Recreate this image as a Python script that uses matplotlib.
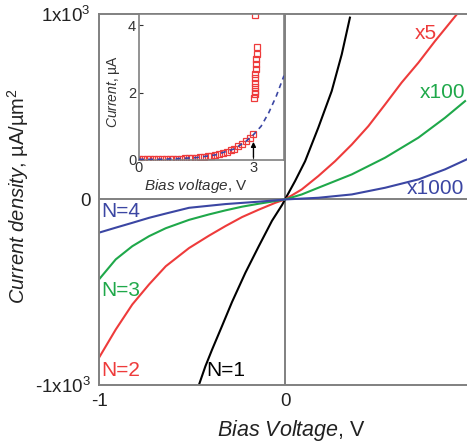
import matplotlib
matplotlib.use("Agg")
import matplotlib.pyplot as plt

plt.rcParams['font.family'] = ['Liberation Sans', 'DejaVu Sans']
plt.rcParams['mathtext.fontset'] = 'custom'
plt.rcParams['mathtext.rm'] = 'Liberation Sans'
plt.rcParams['mathtext.it'] = 'Liberation Sans:italic'

# current density vs bias for N = 1..4 (N=2..4 drawn scaled x5, x100, x1000)
v_n1 = [-0.464, -0.428, -0.392, -0.339, -0.285, -0.213, -0.141, -0.070, -0.016, 0.0,
        0.054, 0.108, 0.179, 0.251, 0.305, 0.349]
j_n1 = [-1003, -899, -809, -683, -553, -395, -252, -115, -30, 0,
        99, 206, 387, 584, 782, 980]

v_n2 = [-1.0, -0.910, -0.821, -0.731, -0.641, -0.516, -0.410, -0.321, -0.231, -0.141, -0.052, 0.0,
        0.090, 0.179, 0.269, 0.359, 0.448, 0.538, 0.627, 0.717, 0.806, 0.923]
j_n2 = [-853, -701, -566, -458, -360, -262, -196, -144, -95, -55, -18, 0,
        54, 126, 206, 296, 395, 512, 630, 737, 853, 997]

v_n3 = [-1.0, -0.910, -0.821, -0.731, -0.641, -0.516, -0.410, -0.321, -0.231, -0.141, -0.016, 0.0,
        0.090, 0.179, 0.359, 0.538, 0.717, 0.860, 0.968]
j_n3 = [-431, -323, -252, -198, -155, -110, -81, -59, -39, -23, -3, 0,
        27, 63, 135, 225, 333, 440, 530]

v_n4 = [-1.0, -0.910, -0.821, -0.731, -0.641, -0.516, -0.321, -0.141, -0.016, 0.0,
        0.179, 0.359, 0.538, 0.717, 0.860, 0.977]
j_n4 = [-179, -152, -126, -99, -76, -45, -25, -12, -2, 0,
        9, 27, 63, 108, 162, 216]

# inset: measured current (squares) and fit (dashed)
v_meas = [0.0, 0.1, 0.2, 0.3, 0.4, 0.5, 0.6, 0.7, 0.8, 0.9, 1.0, 1.1, 1.2, 1.3, 1.4, 1.5,
          1.6, 1.7, 1.8, 1.9, 2.0, 2.1, 2.2, 2.3, 2.4, 2.5, 2.6, 2.7, 2.8, 2.9, 3.0]
i_meas = [0.02, 0.02, 0.02, 0.02, 0.02, 0.02, 0.03, 0.03, 0.03, 0.03, 0.04, 0.04, 0.05, 0.05, 0.06, 0.07,
          0.08, 0.09, 0.11, 0.13, 0.15, 0.18, 0.21, 0.25, 0.29, 0.34, 0.40, 0.47, 0.55, 0.65, 0.78]
v_jump = [3.02, 3.03, 3.03, 3.04, 3.04, 3.05, 3.05, 3.06, 3.06, 3.07, 3.08, 3.08, 3.05]
i_jump = [1.85, 1.95, 2.05, 2.15, 2.28, 2.42, 2.55, 2.7, 2.85, 3.0, 3.15, 3.35, 4.3]
v_fit = [0.0, 0.5, 1.0, 1.5, 2.0, 2.5, 2.8, 3.0, 3.2, 3.4, 3.6, 3.8]
i_fit = [0.02, 0.02, 0.04, 0.07, 0.15, 0.33, 0.55, 0.75, 1.0, 1.4, 1.9, 2.5]

red = '#ee3b3b'
green = '#1fa84a'
blue = '#3b46a3'
grey = '#808080'

fig = plt.figure(figsize=(4.67, 4.46), dpi=100)
ax = fig.add_axes([0.212, 0.1368, 0.7966, 0.832])

ax.axhline(0, color=grey, lw=1.4, zorder=1)
ax.axvline(0, color=grey, lw=1.4, zorder=1)
ax.plot(v_n1, j_n1, color='black', lw=1.5)
ax.plot(v_n2, j_n2, color=red, lw=1.5)
ax.plot(v_n3, j_n3, color=green, lw=1.5)
ax.plot(v_n4, j_n4, color=blue, lw=1.5)

ax.set_xlim(-1, 1)
ax.set_ylim(-1000, 1000)
ax.set_xticks([-1, 0, 1])
ax.set_xticklabels(['-1', '0', '1'])
ax.set_yticks([-1000, 0, 1000])
ax.set_yticklabels([r'-1x10$^3$', '0', r'1x10$^3$'])
ax.tick_params(length=0, labelsize=13.5, colors='#222222', pad=6)
for s in ax.spines.values():
    s.set_color(grey)
    s.set_linewidth(1.4)
ax.set_xlabel(r'$\mathit{Bias\ Voltage}$, V', fontsize=15.5, color='#222222')
ax.xaxis.set_label_coords(0.516, -0.09)
ax.set_ylabel(r'$\mathit{Current\ density}$, µA/µm$^2$', fontsize=14.5, color='#222222')
ax.yaxis.set_label_coords(-0.183, 0.509)

lab = dict(fontsize=15, va='center', ha='left')
ax.text(0.70, 895, 'x5', color=red, **lab)
ax.text(0.726, 577, 'x100', color=green, **lab)
ax.text(0.656, 59, 'x1000', color=blue, **lab)
ax.text(-0.99, -65, 'N=4', color=blue, **lab)
ax.text(-0.99, -490, 'N=3', color=green, **lab)
ax.text(-0.99, -922, 'N=2', color=red, **lab)
ax.text(-0.425, -922, 'N=1', color='black', **lab)

# inset
ins = fig.add_axes([0.2976, 0.6413, 0.3105, 0.3273])
ins.plot(v_fit, i_fit, color=blue, lw=1.2, ls=(0, (3, 2.5)), zorder=3)
ins.plot(v_meas, i_meas, ls='none', marker='s', ms=4, mfc='none', mec=red, mew=0.9, zorder=2)
ins.plot(v_jump, i_jump, ls='none', marker='s', ms=4, mfc='none', mec=red, mew=0.9, zorder=2)
ins.annotate('', xy=(3.0, 0.62), xytext=(3.0, 0.0),
             arrowprops=dict(arrowstyle='-|>', color='black', lw=1, mutation_scale=7))
ins.set_xlim(0, 3.8)
ins.set_ylim(0, 4.33)
ins.set_xticks([0, 3])
ins.set_yticks([0, 2, 4])
ins.tick_params(direction='in', length=3, labelsize=10.5, colors='#333333', pad=2)
ins.tick_params(axis='x', pad=1)
for s in ins.spines.values():
    s.set_color(grey)
    s.set_linewidth(1.2)
ins.set_xlabel(r'$\mathit{Bias\ voltage}$, V', fontsize=11, color='#333333')
ins.xaxis.set_label_coords(0.393, -0.116)
ins.set_ylabel(r'$\mathit{Current}$, µA', fontsize=10, color='#333333')
ins.yaxis.set_label_coords(-0.117, 0.47)

fig.savefig('out.png', dpi=100)
